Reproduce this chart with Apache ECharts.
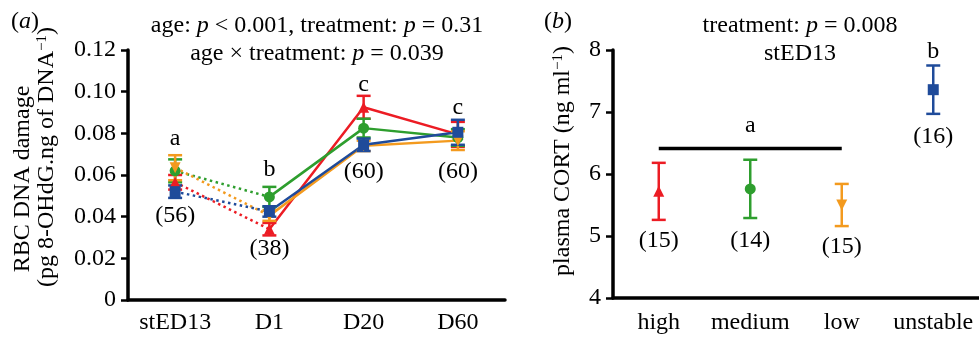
<!DOCTYPE html>
<html>
<head>
<meta charset="utf-8">
<script src="https://cdn.jsdelivr.net/npm/echarts@6/dist/echarts.min.js"></script>
<style>
  html, body { margin: 0; padding: 0; background: #fff; }
  #chart { width: 979px; height: 340px; }
</style>
</head>
<body>
<div id="chart"></div>
<script>
// panel (a): RBC DNA damage by age
const ageCats = ['stED13', 'D1', 'D20', 'D60'];
const highMean = [0.0565, 0.034, 0.0925, 0.0795];
const highErr = [0.0035, 0.003, 0.0055, 0.006];
const mediumMean = [0.062, 0.0495, 0.0825, 0.078];
const mediumErr = [0.0055, 0.0048, 0.0045, 0.004];
const lowMean = [0.0635, 0.0405, 0.074, 0.0765];
const lowErr = [0.006, 0.0025, 0.0025, 0.0045];
const unstableMean = [0.052, 0.0425, 0.0745, 0.0805];
const unstableErr = [0.003, 0.0025, 0.003, 0.006];
const ageLetters = ['a', 'b', 'c', 'c'];
const ageLetterY = [0.0775, 0.0625, 0.1035, 0.0925];
const ageCounts = ['(56)', '(38)', '(60)', '(60)'];
const ageCountY = [0.0405, 0.0245, 0.0615, 0.0615];

// panel (b): plasma CORT at stED13
const treatCats = ['high', 'medium', 'low', 'unstable'];
const cortMean = [5.72, 5.76, 5.5, 7.36];
const cortErr = [0.46, 0.47, 0.34, 0.39];
const cortCounts = ['(15)', '(14)', '(15)', '(16)'];
const cortCountY = [4.93, 4.93, 4.82, 6.6];
const groupLine = [6.41, 6.41, 6.41, null];
const cortLetters = [null, 'a', null, 'b'];
const cortLetterY = [null, 6.78, null, 7.97];

const FONT = "'Liberation Serif', 'Times New Roman', serif";
const FS = 24;
const INK = '#000';

const groups = [
    { name: 'high', color: '#ec1c24', symbol: 'triangle', rot: 0, mean: highMean, err: highErr },
    { name: 'medium', color: '#2e9e2e', symbol: 'circle', rot: 0, mean: mediumMean, err: mediumErr },
    { name: 'low', color: '#f39a1e', symbol: 'triangle', rot: 180, mean: lowMean, err: lowErr },
    { name: 'unstable', color: '#1f4b9a', symbol: 'rect', rot: 0, mean: unstableMean, err: unstableErr }
];

function errorBar(color) {
    return function (params, api) {
        let x = api.value(0);
        let top = api.coord([x, api.value(2)]);
        let bot = api.coord([x, api.value(1)]);
        let w = 7;
        let style = { stroke: color, lineWidth: 2.5 };
        return {
            type: 'group',
            children: [
                { type: 'line', shape: { x1: top[0], y1: top[1], x2: bot[0], y2: bot[1] }, style: style },
                { type: 'line', shape: { x1: top[0] - w, y1: top[1], x2: top[0] + w, y2: top[1] }, style: style },
                { type: 'line', shape: { x1: bot[0] - w, y1: bot[1], x2: bot[0] + w, y2: bot[1] }, style: style }
            ]
        };
    };
}

function textSeries(idx, labels, ys) {
    let data = [];
    labels.forEach((t, i) => {
        if (t) data.push({ name: t, value: [i, ys[i]] });
    });
    return {
        type: 'scatter',
        xAxisIndex: idx,
        yAxisIndex: idx,
        symbolSize: 0,
        silent: true,
        z: 10,
        itemStyle: { opacity: 1 },
        label: {
            show: true,
            position: 'inside',
            formatter: '{b}',
            color: INK,
            opacity: 1,
            fontFamily: FONT,
            fontSize: FS
        },
        data: data
    };
}

let series = [];

groups.forEach(g => {
    series.push({
        type: 'line',
        xAxisIndex: 0,
        yAxisIndex: 0,
        data: [g.mean[0], g.mean[1], null, null],
        symbol: 'none',
        lineStyle: { color: g.color, width: 2.5, type: [2.5, 3.5] },
        z: 2
    });
    series.push({
        type: 'line',
        xAxisIndex: 0,
        yAxisIndex: 0,
        data: [null, g.mean[1], g.mean[2], g.mean[3]],
        symbol: 'none',
        lineStyle: { color: g.color, width: 2.5 },
        z: 3
    });
    series.push({
        type: 'custom',
        xAxisIndex: 0,
        yAxisIndex: 0,
        renderItem: errorBar(g.color),
        encode: { x: 0, y: [1, 2] },
        data: g.mean.map((m, i) => [i, m - g.err[i], m + g.err[i]]),
        z: 4
    });
    series.push({
        type: 'scatter',
        xAxisIndex: 0,
        yAxisIndex: 0,
        data: g.mean.map((m, i) => [i, m]),
        symbol: g.symbol,
        symbolRotate: g.rot,
        symbolSize: 11,
        itemStyle: { color: g.color, opacity: 1 },
        z: 5
    });
});

series.push(textSeries(0, ageLetters, ageLetterY));
series.push(textSeries(0, ageCounts, ageCountY));

// panel (b)
series.push({
    type: 'line',
    xAxisIndex: 1,
    yAxisIndex: 1,
    data: groupLine,
    symbol: 'none',
    lineStyle: { color: '#000', width: 3.5 },
    z: 2
});
groups.forEach((g, i) => {
    series.push({
        type: 'custom',
        xAxisIndex: 1,
        yAxisIndex: 1,
        renderItem: errorBar(g.color),
        encode: { x: 0, y: [1, 2] },
        data: [[i, cortMean[i] - cortErr[i], cortMean[i] + cortErr[i]]],
        z: 4
    });
    series.push({
        type: 'scatter',
        xAxisIndex: 1,
        yAxisIndex: 1,
        data: [[i, cortMean[i]]],
        symbol: g.symbol,
        symbolRotate: g.rot,
        symbolSize: 11,
        itemStyle: { color: g.color, opacity: 1 },
        z: 5
    });
});
series.push(textSeries(1, cortCounts, cortCountY));
series.push(textSeries(1, cortLetters, cortLetterY));

const axisLine = { lineStyle: { color: '#000', width: 3.5 } };
const axisLabel = { color: INK, fontFamily: FONT, fontSize: FS };

const rich = {
    i: { fontFamily: FONT, fontSize: FS, fontStyle: 'italic', color: INK },
    n: { fontFamily: FONT, fontSize: FS, color: INK },
    s: { fontFamily: FONT, fontSize: 15, color: INK, verticalAlign: 'top', padding: [0, 0, 9, 0] }
};

function txt(x, y, text, align, rotation) {
    return {
        type: 'text',
        x: x,
        y: y,
        rotation: rotation || 0,
        style: {
            text: text,
            rich: rich,
            font: FS + 'px ' + FONT,
            fill: INK,
            align: align || 'center',
            verticalAlign: 'middle'
        }
    };
}

const option = {
    animation: false,
    backgroundColor: '#fff',
    grid: [
        { left: 128, top: 50, width: 377, height: 250 },
        { left: 613, top: 50, width: 374, height: 248 }
    ],
    xAxis: [
        {
            type: 'category',
            gridIndex: 0,
            data: ageCats,
            axisLine: axisLine,
            axisTick: { alignWithLabel: true, length: 6, lineStyle: { color: '#000', width: 3 } },
            axisLabel: Object.assign({ margin: 11, interval: 0 }, axisLabel)
        },
        {
            type: 'category',
            gridIndex: 1,
            data: treatCats,
            axisLine: axisLine,
            axisTick: { alignWithLabel: true, length: 6, lineStyle: { color: '#000', width: 3 } },
            axisLabel: Object.assign({ margin: 13, interval: 0 }, axisLabel)
        }
    ],
    yAxis: [
        {
            type: 'value',
            gridIndex: 0,
            min: 0,
            max: 0.12,
            interval: 0.02,
            splitLine: { show: false },
            axisLine: Object.assign({ show: true }, axisLine),
            axisTick: { show: true, length: 7, lineStyle: { color: '#000', width: 2.5 } },
            axisLabel: Object.assign({
                margin: 12,
                formatter: v => v === 0 ? '0' : v.toFixed(2)
            }, axisLabel)
        },
        {
            type: 'value',
            gridIndex: 1,
            min: 4,
            max: 8,
            interval: 1,
            splitLine: { show: false },
            axisLine: Object.assign({ show: true }, axisLine),
            axisTick: { show: true, length: 7, lineStyle: { color: '#000', width: 2.5 } },
            axisLabel: Object.assign({ margin: 12 }, axisLabel)
        }
    ],
    graphic: [
        txt(11, 22, '({i|a})', 'left'),
        txt(317, 26, '{n|age: }{i|p}{n| < 0.001, treatment: }{i|p}{n| = 0.31}'),
        txt(317, 54, '{n|age × treatment: }{i|p}{n| = 0.039}'),
        txt(23, 179, '{n|RBC DNA damage}', 'center', Math.PI / 2),
        txt(47, 157, '{n|(pg 8-OHdG.ng of DNA}{s|−1}{n|)}', 'center', Math.PI / 2),
        txt(544, 22, '({i|b})', 'left'),
        txt(800, 26, '{n|treatment: }{i|p}{n| = 0.008}'),
        txt(800, 54, '{n|stED13}'),
        txt(563, 161, '{n|plasma CORT (ng ml}{s|−1}{n|)}', 'center', Math.PI / 2)
    ],
    series: series
};

let chart = echarts.init(document.getElementById('chart'), null, { renderer: 'canvas' });
chart.setOption(option);
</script>
</body>
</html>
